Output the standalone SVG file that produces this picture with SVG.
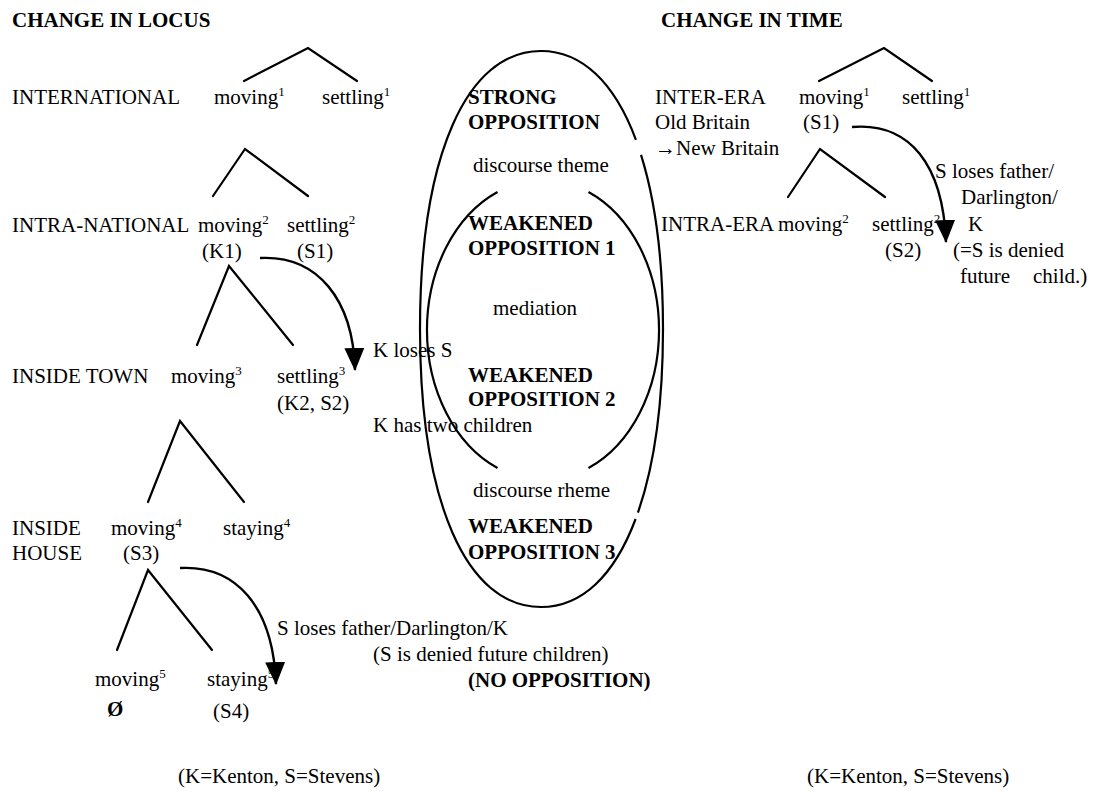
<svg xmlns="http://www.w3.org/2000/svg" width="1104" height="793" viewBox="0 0 1104 793">
  <defs>
    <style>
      .t { font-family: "Liberation Serif", "Times New Roman", serif; font-size: 21px; fill: #000; }
      .b { font-weight: bold; }
      .sup { font-size: 13px; }
      .tree { fill: none; stroke: #000; stroke-width: 2.2; stroke-linecap: round; stroke-linejoin: miter; }
      .arc { fill: none; stroke: #000; stroke-width: 2.4; }
      .oval { fill: none; stroke: #000; stroke-width: 2.2; }
    </style>
    <marker id="head" markerUnits="userSpaceOnUse" markerWidth="23" markerHeight="22" viewBox="0 0 23 22" refX="22" refY="11" orient="auto">
      <path d="M0,1 L23,11 L0,21 Z" fill="#000"/>
    </marker>
  </defs>
  <rect width="1104" height="793" fill="#fff"/>

  <!-- opposition ovals -->
  <g id="ovals">
    <path class="oval" pathLength="1000" stroke-dasharray="105 12 274 5 604"
          d="M 541 51 C 616 51 663 157 663 329 C 663 501 616 607 541 607 C 466 607 420 501 420 329 C 420 157 466 51 541 51 Z"/>
    <path class="oval" d="M 497.5 192 A 116 150 0 0 0 497.5 468"/>
    <path class="oval" d="M 588.5 192 A 116 150 0 0 1 588.5 468"/>
  </g>

  <!-- branching lines and loss arrows -->
  <g id="connectors">
    <polyline class="tree" points="244,81 308,48 357,81"/>
    <polyline class="tree" points="213,196 245,149 308,196"/>
    <polyline class="tree" points="197,345 229,266 293,345"/>
    <polyline class="tree" points="148,502 180,421 244,502"/>
    <polyline class="tree" points="117,650 148,570 212,650"/>
    <polyline class="tree" points="819,81 884,48 932,81"/>
    <polyline class="tree" points="788,197 820,149 885,197"/>
    <path class="arc" marker-end="url(#head)" d="M 260 258 C 318 255 353 300 355 370"/>
    <path class="arc" marker-end="url(#head)" d="M 180 568 C 235 565 273 605 276 684"/>
    <path class="arc" marker-end="url(#head)" d="M 852 127 C 910 122 943 165 946 242"/>
  </g>

  <!-- change in locus -->
  <g id="locus-title"><text class="t b" x="12" y="27">CHANGE IN LOCUS</text></g>
  <g id="international">
    <text class="t" x="12" y="104">INTERNATIONAL</text>
    <text class="t" x="214" y="104">moving<tspan class="sup" dy="-8">1</tspan></text>
    <text class="t" x="322" y="104">settling<tspan class="sup" dy="-8">1</tspan></text>
  </g>
  <g id="intra-national">
    <text class="t" x="12" y="232">INTRA-NATIONAL</text>
    <text class="t" x="198" y="232">moving<tspan class="sup" dy="-8">2</tspan></text>
    <text class="t" x="287" y="232">settling<tspan class="sup" dy="-8">2</tspan></text>
    <text class="t" x="202" y="258">(K1)</text>
    <text class="t" x="297" y="258">(S1)</text>
  </g>
  <g id="inside-town">
    <text class="t" x="12" y="383">INSIDE TOWN</text>
    <text class="t" x="171" y="383">moving<tspan class="sup" dy="-8">3</tspan></text>
    <text class="t" x="277" y="383">settling<tspan class="sup" dy="-8">3</tspan></text>
    <text class="t" x="277" y="410">(K2, S2)</text>
  </g>
  <g id="inside-house">
    <text class="t" x="12" y="535">INSIDE</text>
    <text class="t" x="12" y="560">HOUSE</text>
    <text class="t" x="111" y="535">moving<tspan class="sup" dy="-8">4</tspan></text>
    <text class="t" x="223" y="535">staying<tspan class="sup" dy="-8">4</tspan></text>
    <text class="t" x="123" y="560">(S3)</text>
  </g>
  <g id="level-5">
    <text class="t" x="95" y="686">moving<tspan class="sup" dy="-8">5</tspan></text>
    <text class="t b" x="107" y="716">Ø</text>
    <text class="t" x="207" y="686">staying<tspan class="sup" dy="-8">5</tspan></text>
    <text class="t" x="213" y="718">(S4)</text>
  </g>
  <g id="k-loses-s">
    <text class="t" x="373" y="357">K loses S</text>
    <text class="t" x="373" y="432">K has two children</text>
  </g>
  <g id="s-loses-locus">
    <text class="t" x="277" y="635">S loses father/Darlington/K</text>
    <text class="t" x="373" y="661">(S is denied future children)</text>
    <text class="t b" x="468" y="687">(NO OPPOSITION)</text>
  </g>
  <g id="key-left"><text class="t" x="178" y="783">(K=Kenton, S=Stevens)</text></g>

  <!-- oppositions -->
  <g id="strong">
    <text class="t b" x="468" y="104">STRONG</text>
    <text class="t b" x="468" y="129">OPPOSITION</text>
  </g>
  <g id="theme"><text class="t" x="473" y="172">discourse theme</text></g>
  <g id="weakened-1">
    <text class="t b" x="468" y="230">WEAKENED</text>
    <text class="t b" x="468" y="255">OPPOSITION 1</text>
  </g>
  <g id="mediation"><text class="t" x="493" y="315">mediation</text></g>
  <g id="weakened-2">
    <text class="t b" x="468" y="382">WEAKENED</text>
    <text class="t b" x="468" y="406">OPPOSITION 2</text>
  </g>
  <g id="rheme"><text class="t" x="473" y="497">discourse rheme</text></g>
  <g id="weakened-3">
    <text class="t b" x="468" y="533">WEAKENED</text>
    <text class="t b" x="468" y="559">OPPOSITION 3</text>
  </g>

  <!-- change in time -->
  <g id="time-title"><text class="t b" x="661" y="27">CHANGE IN TIME</text></g>
  <g id="inter-era">
    <text class="t" x="655" y="104">INTER-ERA</text>
    <text class="t" x="655" y="129">Old Britain</text>
    <text class="t" x="655" y="155">→New Britain</text>
    <text class="t" x="799" y="104">moving<tspan class="sup" dy="-8">1</tspan></text>
    <text class="t" x="902" y="104">settling<tspan class="sup" dy="-8">1</tspan></text>
    <text class="t" x="803" y="129">(S1)</text>
  </g>
  <g id="intra-era">
    <text class="t" x="661" y="231">INTRA-ERA</text>
    <text class="t" x="778" y="231">moving<tspan class="sup" dy="-8">2</tspan></text>
    <text class="t" x="872" y="231">settling<tspan class="sup" dy="-8">2</tspan></text>
    <text class="t" x="885" y="257">(S2)</text>
  </g>
  <g id="s-loses-time">
    <text class="t" x="935" y="178">S loses father/</text>
    <text class="t" x="961" y="204">Darlington/</text>
    <text class="t" x="968" y="231">K</text>
    <text class="t" x="953" y="257">(=S is denied</text>
    <text class="t" x="960" y="283">future</text>
    <text class="t" x="1033" y="283">child.)</text>
  </g>
  <g id="key-right"><text class="t" x="807" y="783">(K=Kenton, S=Stevens)</text></g>
</svg>
